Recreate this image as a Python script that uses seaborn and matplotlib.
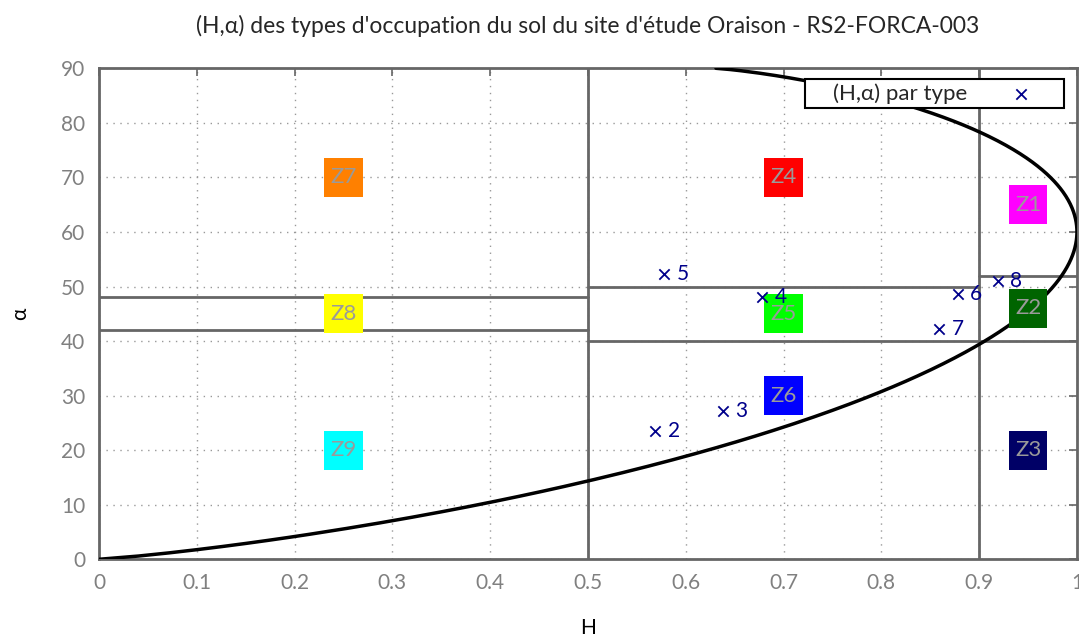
import numpy as np
import pandas as pd
import matplotlib
matplotlib.use("Agg")
import matplotlib.pyplot as plt
import matplotlib.patches as mpatches
import seaborn as sns

# ---- data ----
type_ids = ["2", "3", "4", "5", "6", "7", "8"]
type_H = [0.569, 0.638, 0.678, 0.578, 0.878, 0.859, 0.919]
type_alpha = [23.5, 27.1, 48.1, 52.3, 48.6, 42.2, 51.1]

zone_names = ["Z1", "Z2", "Z3", "Z4", "Z5", "Z6", "Z7", "Z8", "Z9"]
zone_H = [0.95, 0.95, 0.95, 0.70, 0.70, 0.70, 0.25, 0.25, 0.25]
zone_alpha = [65, 46, 20, 70, 45, 30, 70, 45, 20]
zone_colors = ["#ff00ff", "#006400", "#000066", "#ff0000", "#00ff00",
               "#0000ff", "#ff8000", "#ffff00", "#00ffff"]

# zone boundaries: (H_start, H_end, alpha)
hbound_H0 = [0.0, 0.0, 0.5, 0.5, 0.9]
hbound_H1 = [0.5, 0.5, 1.0, 0.9, 1.0]
hbound_alpha = [48, 42, 40, 50, 52]
vbound_H = [0.5, 0.9]

x_ticks = [0, 0.1, 0.2, 0.3, 0.4, 0.5, 0.6, 0.7, 0.8, 0.9, 1.0]
y_ticks = [0, 10, 20, 30, 40, 50, 60, 70, 80, 90]

title = "(H,\u03b1) des types d'occupation du sol du site d'étude Oraison - RS2-FORCA-003"

# ---- theoretical feasible-region boundary of the H/alpha plane ----
def entropy3(p):
    p = np.clip(p, 1e-12, 1)
    return -(p * np.log(p) / np.log(3)).sum(axis=0)

m2 = np.linspace(0.5, 1.0, 200)
p_up = np.vstack([2 * m2 - 1, np.ones_like(m2), np.ones_like(m2)]) / (2 * m2 + 1)
H_up = entropy3(p_up)
a_up = 180.0 / (2 * m2 + 1)
m1 = np.linspace(1.0, 0.0, 300)
p_lo = np.vstack([np.ones_like(m1), m1, m1]) / (1 + 2 * m1)
H_lo = entropy3(p_lo)
a_lo = 90.0 * 2 * m1 / (1 + 2 * m1)
curve = pd.DataFrame({"H": np.concatenate([H_up, H_lo]),
                      "alpha": np.concatenate([a_up, a_lo])})

# ---- figure ----
sns.set_style("white")
plt.rcParams["font.family"] = ["Lato", "DejaVu Sans"]

fig = plt.figure(figsize=(10.79, 6.37), dpi=100)
ax = fig.add_axes([0.0917, 0.1220, 0.9981 - 0.0917, 0.8928 - 0.1220])

gray = "#666666"
ax.set_xlim(0, 1)
ax.set_ylim(0, 90)
ax.set_xticks(x_ticks)
ax.set_yticks(y_ticks)
ax.set_xticklabels([f"{v:g}" for v in x_ticks])
ax.set_yticklabels([f"{v:g}" for v in y_ticks])
ax.grid(True, color="#999999", linestyle=(0, (1, 4)), linewidth=1.0)
ax.tick_params(direction="in", length=6, width=1.2, color=gray,
               labelcolor="#808080", labelsize=15, top=True, right=True,
               pad=10)
for s in ax.spines.values():
    s.set_color(gray)
    s.set_linewidth(2.0)

# zone boundaries
for h0, h1, a in zip(hbound_H0, hbound_H1, hbound_alpha):
    ax.plot([h0, h1], [a, a], color=gray, lw=2.0, zorder=2)
for h in vbound_H:
    ax.plot([h, h], [0, 90], color=gray, lw=2.0, zorder=2)

# boundary curve
sns.lineplot(data=curve, x="H", y="alpha", sort=False, estimator=None,
             color="black", lw=2.5, ax=ax, zorder=3, legend=False)

# zone labels
zdf = pd.DataFrame({"H": zone_H, "alpha": zone_alpha, "zone": zone_names})
sns.scatterplot(data=zdf, x="H", y="alpha", hue="zone",
                palette=dict(zip(zone_names, zone_colors)), marker="s",
                s=780, linewidth=0, ax=ax, zorder=4, legend=False)
for name, h, a in zip(zone_names, zone_H, zone_alpha):
    ax.text(h, a, name, color="#9a9a9a", fontsize=16, ha="center",
            va="center", zorder=5)

# points
pdf = pd.DataFrame({"H": type_H, "alpha": type_alpha, "id": type_ids})
navy = "#00008b"
sns.scatterplot(data=pdf, x="H", y="alpha", marker="x", s=55, color=navy,
                linewidth=1.3, ax=ax, zorder=6, label="(H,\u03b1) par type")
for t, h, a in zip(type_ids, type_H, type_alpha):
    ax.annotate(t, (h, a), xytext=(9, 0), textcoords="offset points",
                color=navy, fontsize=15, va="center", ha="left", zorder=6)

ax.set_xlabel("H", fontsize=15, color="black", labelpad=18)
ax.set_ylabel("\u03b1", fontsize=15, color="black", labelpad=22)
fig.suptitle(title, fontsize=16.5, x=0.545, y=0.977)

# legend with a hand-sized frame
frame = mpatches.Rectangle((805 / 1079, 1 - 108 / 637), 259 / 1079, 29 / 637,
                           transform=fig.transFigure, facecolor="white",
                           edgecolor="black", linewidth=1.5, zorder=9,
                           clip_on=False)
ax.add_patch(frame)
leg = ax.legend(loc="center left", bbox_to_anchor=(833 / 1079, 1 - 93.5 / 637),
                bbox_transform=fig.transFigure, markerfirst=False,
                frameon=False, fontsize=16, borderpad=0, borderaxespad=0,
                handlelength=2.0, handletextpad=1.42)
leg.set_zorder(10)

fig.savefig("out.png", dpi=100)
